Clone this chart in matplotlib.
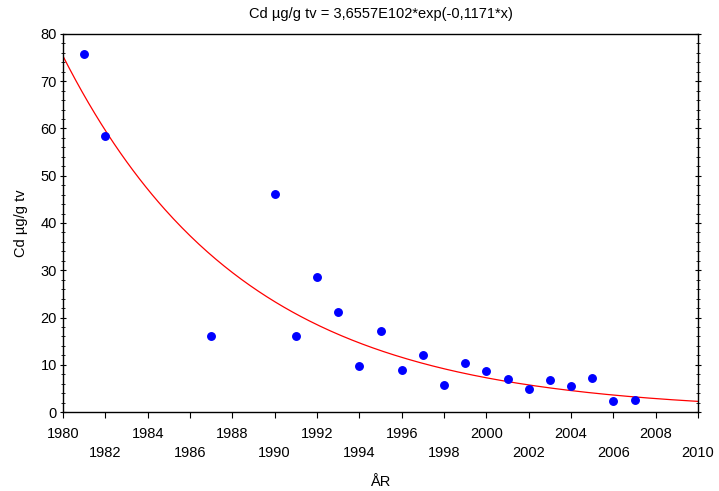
import numpy as np
import matplotlib
matplotlib.use("Agg")
import matplotlib.pyplot as plt
from matplotlib.ticker import MultipleLocator

plt.rcParams['font.family'] = ['Liberation Sans', 'DejaVu Sans']

years = [1981, 1982, 1987, 1990, 1991, 1992, 1993, 1994, 1995, 1996, 1997,
         1998, 1999, 2000, 2001, 2002, 2003, 2004, 2005, 2006, 2007]
cd = [75.8, 58.5, 16.1, 46.1, 16.1, 28.5, 21.1, 9.8, 17.2, 8.9, 12.0,
      5.7, 10.3, 8.7, 7.0, 4.9, 6.8, 5.4, 7.3, 2.4, 2.6]

# fitted curve; the title prints b rounded to -0,1171, the drawn line fits -0.11709
fit_a = 3.6557e102
fit_b = -0.11709
tick_years = list(range(1980, 2011, 2))

fig = plt.figure(figsize=(7.19, 4.91), dpi=100)
ax = fig.add_axes([63 / 719, 79 / 491, 635 / 719, 378 / 491])

xs = np.linspace(1980, 2010, 300)
ax.plot(xs, fit_a * np.exp(fit_b * xs), color='red', lw=0.9, zorder=2)
ax.plot(years, cd, 'o', color='#0000ff', ms=5.4, zorder=3)

ax.set_xlim(1980, 2010)
ax.set_ylim(0, 80)
ax.set_xticks(tick_years)
ax.set_xticklabels([str(y) if i % 2 == 0 else "\n" + str(y)
                    for i, y in enumerate(tick_years)])
ax.yaxis.set_major_locator(MultipleLocator(10))
ax.yaxis.set_minor_locator(MultipleLocator(2))
ax.tick_params(axis='x', direction='out', length=4, width=0.8, labelsize=10.5,
               pad=7, colors='black')
ax.tick_params(axis='y', which='major', direction='inout', length=5, width=0.8,
               labelsize=10.5, right=True, pad=2)
ax.tick_params(axis='y', which='minor', direction='inout', length=3, width=0.6,
               right=True)
for t in ax.get_xticklabels():
    t.set_linespacing(1.4)
for s in ax.spines.values():
    s.set_linewidth(1.0)

fig.text(380.5 / 719, 1 - 14 / 491, "Cd µg/g tv = 3,6557E102*exp(-0,1171*x)",
         ha='center', va='center', fontsize=10.5)
ax.set_ylabel("Cd µg/g tv", fontsize=10.5, labelpad=9)
ax.set_xlabel("ÅR", fontsize=10.5, labelpad=11)

fig.savefig("out.png", dpi=100)
